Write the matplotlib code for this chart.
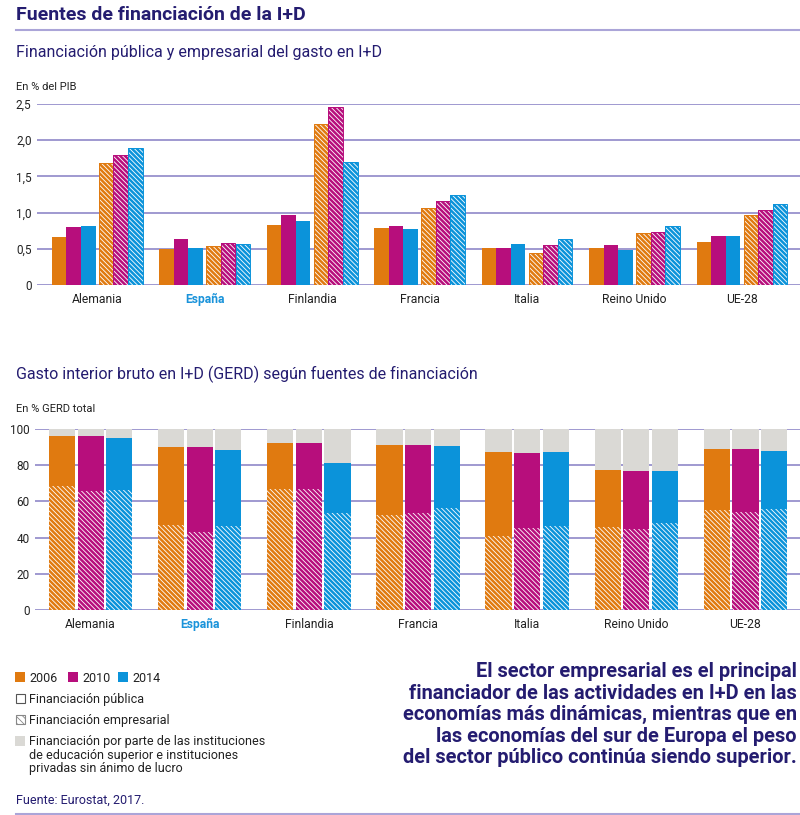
import numpy as np
import matplotlib
matplotlib.use('Agg')
import matplotlib.pyplot as plt
from matplotlib.patches import Rectangle

plt.rcParams['font.family'] = ['Roboto', 'DejaVu Sans']
plt.rcParams['hatch.linewidth'] = 0.6

# --- datos ---
countries = ["Alemania", "España", "Finlandia", "Francia", "Italia", "Reino Unido", "UE-28"]
years = ["2006", "2010", "2014"]

# financiación pública / empresarial, % del PIB
pub_pib = {
    "2006": [0.66, 0.50, 0.83, 0.79, 0.51, 0.51, 0.60],
    "2010": [0.80, 0.64, 0.96, 0.81, 0.51, 0.55, 0.68],
    "2014": [0.81, 0.51, 0.88, 0.78, 0.565, 0.48, 0.67],
}
emp_pib = {
    "2006": [1.69, 0.535, 2.23, 1.07, 0.44, 0.72, 0.96],
    "2010": [1.79, 0.58, 2.46, 1.16, 0.55, 0.735, 1.035],
    "2014": [1.89, 0.56, 1.70, 1.25, 0.64, 0.81, 1.12],
}

# % GERD total
emp_gerd = {
    "2006": [68.5, 47.1, 66.9, 52.5, 40.9, 45.7, 55.2],
    "2010": [65.9, 43.3, 66.7, 53.8, 45.1, 44.6, 54.3],
    "2014": [66.3, 46.6, 53.8, 56.2, 46.6, 48.3, 55.6],
}
pub_gerd = {
    "2006": [27.6, 42.8, 25.2, 38.5, 46.6, 31.6, 33.6],
    "2010": [30.2, 46.6, 25.4, 37.2, 41.5, 32.0, 34.5],
    "2014": [28.5, 41.6, 27.6, 34.4, 40.9, 28.3, 32.2],
}

top_yticks = [0, 0.5, 1.0, 1.5, 2.0, 2.5]
bot_yticks = [0, 20, 40, 60, 80, 100]

# --- estilo ---
COLORS = {"2006": "#E07A10", "2010": "#B70E7C", "2014": "#0B93DA"}
GREY = "#DAD9D5"
NAVY = "#241C70"
GRID = "#8F88C8"
LINE = "#ABA5D8"
HL = "#1A93DA"
HATCH = "\\" * 7

W, H = 800, 815
fig = plt.figure(figsize=(W / 100, H / 100), dpi=100)


def fx(px):
    return px / W


def fy(py):
    return 1 - py / H


def style_axis(ax, yticks, labels):
    ax.set_axisbelow(True)
    for s in ax.spines.values():
        s.set_visible(False)
    ax.set_yticks(yticks)
    ax.set_yticklabels(labels)
    ax.yaxis.grid(True, color=GRID, lw=1.2)
    ax.tick_params(axis='y', length=0, pad=4, labelsize=8.5, labelcolor="#222222")
    ax.tick_params(axis='x', length=0, pad=6, labelsize=8.7, labelcolor="#222222")
    ax.set_xticks(np.arange(len(countries)))
    ax.set_xticklabels(countries)
    for t in ax.get_xticklabels():
        if t.get_text() == "España":
            t.set_color(HL)
            t.set_fontweight('bold')


x = np.arange(len(countries))

# --- gráfico superior ---
ax1 = fig.add_axes([fx(37), fy(285), fx(800 - 37), fy(104) - fy(285)])
w1 = 0.135
pub_off = [-0.355, -0.219, -0.083]
emp_off = [0.083, 0.219, 0.355]
for i, yr in enumerate(years):
    ax1.bar(x + pub_off[i], pub_pib[yr], width=w1, color=COLORS[yr], lw=0)
    ax1.bar(x + emp_off[i], emp_pib[yr], width=w1, color=COLORS[yr],
            edgecolor="white", hatch=HATCH, lw=0)
    ax1.bar(x + emp_off[i], emp_pib[yr], width=w1, facecolor="none",
            edgecolor=COLORS[yr], lw=0.7)
ax1.set_ylim(0, 2.5)
ax1.set_xlim(-0.56, 6.54)
style_axis(ax1, top_yticks, ["0" if v == 0 else f"{v:.1f}".replace(".", ",") for v in top_yticks])

# --- gráfico inferior ---
ax2 = fig.add_axes([fx(35), fy(610), fx(800 - 35), fy(429) - fy(610)])
w2 = 0.24
off2 = [-0.262, 0.0, 0.262]
for i, yr in enumerate(years):
    emp = np.array(emp_gerd[yr])
    pub = np.array(pub_gerd[yr])
    rest = 100 - emp - pub
    ax2.bar(x + off2[i], emp, width=w2, color=COLORS[yr], edgecolor="white",
            hatch=HATCH, lw=0)
    ax2.bar(x + off2[i], pub, bottom=emp, width=w2, color=COLORS[yr], lw=0)
    ax2.bar(x + off2[i], rest, bottom=emp + pub, width=w2, color=GREY, lw=0)
ax2.set_ylim(0, 100)
ax2.set_xlim(-0.51, 6.5)
style_axis(ax2, bot_yticks, [str(v) for v in bot_yticks])

# --- textos y leyenda (capa en píxeles) ---
ov = fig.add_axes([0, 0, 1, 1], zorder=-1)
ov.set_xlim(0, W)
ov.set_ylim(H, 0)
ov.axis('off')

ov.text(16, 20, "Fuentes de financiación de la I+D", fontsize=14, fontweight='bold',
        color=NAVY, va='baseline')
ov.plot([16, 800], [29.5, 29.5], color=LINE, lw=1.5)
ov.text(16, 57, "Financiación pública y empresarial del gasto en I+D", fontsize=11.5,
        color=NAVY, va='baseline')
ov.text(16, 90, "En % del PIB", fontsize=8, color="#222222", va='baseline')
ov.text(16, 379, "Gasto interior bruto en I+D (GERD) según fuentes de financiación",
        fontsize=11.5, color=NAVY, va='baseline')
ov.text(16, 412, "En % GERD total", fontsize=8, color="#222222", va='baseline')

# leyenda
for px, yr in zip([15, 68, 118], years):
    ov.add_patch(Rectangle((px, 672), 10, 10, facecolor=COLORS[yr], lw=0))
    ov.text(px + 14, 682, yr, fontsize=9, color="#222222", va='baseline')
ov.add_patch(Rectangle((15.5, 693.5), 9.5, 9.5, facecolor="white", edgecolor="#555555", lw=0.8))
ov.text(29, 703, "Financiación pública", fontsize=9, color="#222222", va='baseline')
ov.add_patch(Rectangle((15.5, 714.5), 9.5, 9.5, facecolor="white", edgecolor="#888888",
                       hatch="\\" * 5, lw=0.8))
ov.text(29, 724, "Financiación empresarial", fontsize=9, color="#222222", va='baseline')
ov.add_patch(Rectangle((15, 736), 10, 10, facecolor=GREY, lw=0))
leg3 = ["Financiación por parte de las instituciones",
        "de educación superior e instituciones",
        "privadas sin ánimo de lucro"]
for k, line in enumerate(leg3):
    ov.text(29, 745 + k * 13.5, line, fontsize=9, color="#222222", va='baseline')

ov.text(16, 804, "Fuente: Eurostat, 2017.", fontsize=9, color=NAVY, va='baseline')
ov.plot([16, 800], [814, 814], color=LINE, lw=1.5)

msg = ["El sector empresarial es el principal",
       "financiador de las actividades en I+D en las",
       "economías más dinámicas, mientras que en",
       "las economías del sur de Europa el peso",
       "del sector público continúa siendo superior."]
for k, line in enumerate(msg):
    ov.text(797, 677 + k * 21.6, line, fontsize=14.4, fontweight='bold', color=NAVY,
            ha='right', va='baseline')

fig.savefig("out.png", dpi=100)
